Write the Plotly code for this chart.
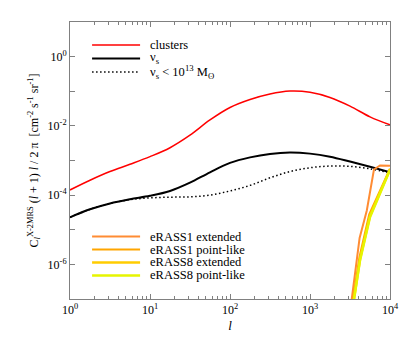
import plotly.graph_objects as go

# multipoles and angular power spectra
ell = [1, 1.78, 3.16, 5.62, 10, 17.8, 31.6, 56.2, 100, 178, 316, 562, 1000, 1778, 3162, 5623, 10000]
clusters = [1.41e-4, 2.69e-4, 4.79e-4, 7.76e-4, 1.29e-3, 2.34e-3, 5.37e-3, 1.48e-2, 3.39e-2,
            5.75e-2, 8.32e-2, 0.101, 9.33e-2, 6.61e-2, 3.72e-2, 1.82e-2, 1.07e-2]
nu_s = [2.29e-5, 3.89e-5, 5.75e-5, 7.59e-5, 9.55e-5, 1.32e-4, 2.29e-4, 4.57e-4, 8.51e-4,
        1.23e-3, 1.55e-3, 1.70e-3, 1.58e-3, 1.29e-3, 9.33e-4, 6.61e-4, 4.57e-4]
nu_s_low = [2.29e-5, 3.89e-5, 5.75e-5, 7.41e-5, 8.32e-5, 8.71e-5, 8.91e-5, 1.0e-4, 1.32e-4,
            1.91e-4, 3.16e-4, 4.79e-4, 6.17e-4, 6.92e-4, 6.76e-4, 5.75e-4, 4.37e-4]

ell_e1x = [3200, 4170, 5130, 6300, 7500, 10000]
erass1_ext = [5e-8, 5.8e-6, 3.6e-5, 5.5e-4, 7.2e-4, 7.0e-4]
ell_e1p = [3300, 4150, 5500, 7400, 10000]
erass1_pt = [5e-8, 1.6e-6, 2.8e-5, 1.3e-4, 5.8e-4]
ell_e8 = [3390, 4220, 5620, 7500, 10000]
erass8_ext = [5e-8, 1.4e-6, 2.5e-5, 1.17e-4, 5.6e-4]
erass8_pt = [5e-8, 1.3e-6, 2.3e-5, 1.1e-4, 5.4e-4]

top_legend = [
    ('clusters', dict(color='#ff0000', width=1.5)),
    ('ν<sub>s</sub>', dict(color='black', width=2)),
    ('ν<sub>s</sub> &lt; 10<sup>13</sup> M<sub>ʘ</sub>', dict(color='black', width=1.5, dash='1.5px,2.5px')),
]
bottom_legend = [
    ('eRASS1 extended', dict(color='#ff8c33', width=2)),
    ('eRASS1 point-like', dict(color='#ffa500', width=2)),
    ('eRASS8 extended', dict(color='#ffcc00', width=2.5)),
    ('eRASS8 point-like', dict(color='#e6f500', width=2.5)),
]

fig = go.Figure()
fig.add_trace(go.Scatter(x=ell, y=clusters, line=dict(top_legend[0][1], shape='spline')))
fig.add_trace(go.Scatter(x=ell, y=nu_s, line=dict(top_legend[1][1], shape='spline')))
fig.add_trace(go.Scatter(x=ell, y=nu_s_low, line=dict(top_legend[2][1], shape='spline')))
fig.add_trace(go.Scatter(x=ell_e1x, y=erass1_ext, line=bottom_legend[0][1]))
fig.add_trace(go.Scatter(x=ell_e1p, y=erass1_pt, line=bottom_legend[1][1]))
fig.add_trace(go.Scatter(x=ell_e8, y=erass8_ext, line=bottom_legend[2][1]))
fig.add_trace(go.Scatter(x=ell_e8, y=erass8_pt, line=bottom_legend[3][1]))
fig.update_traces(mode='lines', showlegend=False, hoverinfo='skip')

# hand-made legends (tighter rows than plotly's own legend)
def add_legend(entries, y0, step):
    for i, (label, ln) in enumerate(entries):
        y = y0 - i * step
        fig.add_shape(type='line', xref='paper', yref='paper', x0=0.069, x1=0.219, y0=y, y1=y, line=ln)
        fig.add_annotation(text=label, xref='paper', yref='paper', x=0.245, y=y, xanchor='left',
                           yanchor='middle', showarrow=False, font=dict(size=12.5))

add_legend(top_legend, 0.917, 0.0487)
add_legend(bottom_legend, 0.2256, 0.0469)

ax = dict(type='log', showline=True, linecolor='#808080', linewidth=1, mirror='ticks',
          ticks='inside', tickcolor='#808080', ticklen=5, showgrid=False, zeroline=False,
          automargin=False, tickfont=dict(size=12, color='black'))

xdec = list(range(0, 5))
ydec = list(range(-7, 2))
fig.update_xaxes(**ax, range=[0, 4],
                 tickvals=[10 ** d for d in xdec],
                 ticktext=['10<sup>%d</sup>' % d for d in xdec],
                 minor=dict(ticks='inside', ticklen=3, tickcolor='#808080',
                            tickvals=[k * 10 ** d for d in range(0, 4) for k in range(2, 10)]),
                 title=dict(text='<i>l</i>', font=dict(size=13), standoff=4))
fig.update_yaxes(**ax, range=[-7, 1],
                 tickvals=[10 ** d for d in ydec],
                 ticktext=['10<sup>%d</sup>' % d if d % 2 == 0 else '' for d in ydec],
                 title=dict(text='C<sub><i>l</i></sub><sup>X-2MRS</sup> (<i>l</i> + 1) <i>l</i> / 2 π  [cm<sup>-2</sup> s<sup>-1</sup> sr<sup>-1</sup>]',
                            font=dict(size=12), standoff=6))

# page body adds an 8px offset, so margins are shifted to keep the plot box in place
fig.update_layout(
    width=413, height=344,
    margin=dict(l=62, r=31, t=14, b=53),
    paper_bgcolor='white', plot_bgcolor='white',
    font=dict(family='Liberation Serif', size=12, color='black'),
)

fig.write_html('out.html')
